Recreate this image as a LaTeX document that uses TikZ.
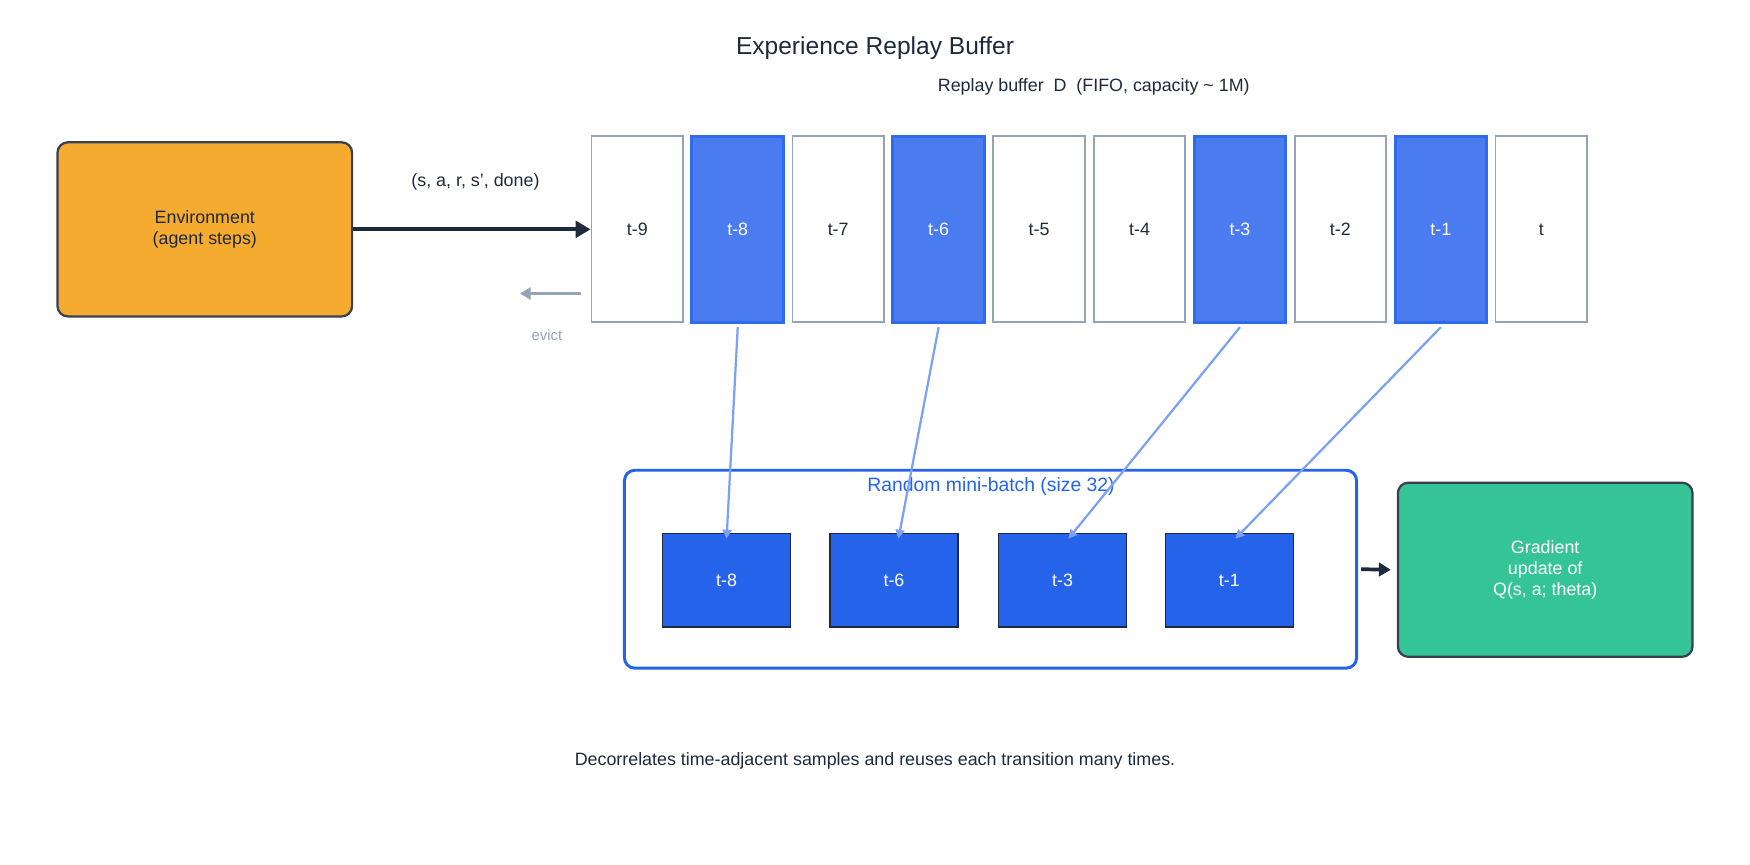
\documentclass[tikz,border=0pt]{standalone}
\usepackage{fontspec}
\setmainfont{Liberation Sans}
\usetikzlibrary{arrows.meta}
\definecolor{ink}{HTML}{1E293B}
\definecolor{slate}{HTML}{94A3B8}
\definecolor{hiblue}{HTML}{4A7BEF}
\definecolor{hiedge}{HTML}{2F6BEB}
\definecolor{deepblue}{HTML}{2563EB}
\definecolor{pickline}{HTML}{7BA0F5}
\definecolor{envfill}{HTML}{F5AA30}
\definecolor{gradfill}{HTML}{34C495}
\definecolor{boxedge}{HTML}{374151}

\begin{document}
\begin{tikzpicture}[x=0.75pt,y=-0.75pt]
\tikzset{every node/.style={font=\fontsize{12}{14}\selectfont,align=center}}
\tikzset{cell/.style={draw=slate,line width=1.2pt,minimum width=61.5pt,minimum height=125pt,text=ink}}
\tikzset{hcell/.style={cell,draw=hiedge,fill=hiblue,line width=2pt,text=white}}
\tikzset{bcell/.style={draw=ink,line width=1pt,fill=deepblue,text=white,minimum width=86pt,minimum height=63pt}}
\tikzset{bigbox/.style={draw=boxedge,line width=1.5pt,rounded corners=7pt,minimum width=198pt,minimum height=117pt}}
\useasboundingbox (0,0) rectangle (1568,775);

\node[font=\fontsize{16.5}{18}\selectfont,text=ink] (title) at (784,43) {Experience Replay Buffer};
\node[text=ink] (bufhead) at (980,78) {Replay buffer\ \ D\ \ (FIFO, capacity \textasciitilde{} 1M)};

\node[bigbox,fill=envfill,text=ink] (env) at (183.5,205.5) {Environment\\(agent steps)};
\node[bigbox,fill=gradfill,text=white] (grad) at (1384.5,510.5) {Gradient\\update of\\Q(s, a; theta)};

% buffer cells
\node[cell] (c9) at (571,205.5) {t-9};
\node[hcell] (c8) at (661,205.5) {t-8};
\node[cell] (c7) at (751,205.5) {t-7};
\node[hcell] (c6) at (841,205.5) {t-6};
\node[cell] (c5) at (931,205.5) {t-5};
\node[cell] (c4) at (1021,205.5) {t-4};
\node[hcell] (c3) at (1111,205.5) {t-3};
\node[cell] (c2) at (1201,205.5) {t-2};
\node[hcell] (c1) at (1291,205.5) {t-1};
\node[cell] (c0) at (1381,205.5) {t};

\node[text=ink] (tuple) at (426,163) {(s, a, r, s', done)};
\draw[ink,line width=2.5pt,-{Triangle[length=10pt,width=11pt]}] (env.east) -- (c9.west);

\coordinate (evs) at (521,263);
\coordinate (eve) at (466,263);
\draw[slate,line width=2pt,-{Triangle[length=7pt,width=8pt]}] (evs) -- (eve);
\node[text=slate,font=\fontsize{10}{12}\selectfont] (evict) at (490,300) {evict};

% mini-batch
\node[draw=deepblue,line width=2pt,rounded corners=7pt,minimum width=492pt,minimum height=133pt] (batch) at (887.5,510) {};
\node[text=deepblue,font=\fontsize{13}{15}\selectfont] (batchlbl) at (888,436) {Random mini-batch (size 32)};
\node[bcell] (b8) at (651,520) {t-8};
\node[bcell] (b6) at (801,520) {t-6};
\node[bcell] (b3) at (952,520) {t-3};
\node[bcell] (b1) at (1101.5,520) {t-1};

\draw[pickline,line width=1.5pt,-{Triangle[length=6pt,width=6pt]}] (c8.south) ++(0,3) -- ([yshift=-4pt]b8.north);
\draw[pickline,line width=1.5pt,-{Triangle[length=6pt,width=6pt]}] (c6.south) ++(0,3) -- ([xshift=3pt,yshift=-4pt]b6.north);
\draw[pickline,line width=1.5pt,-{Triangle[length=6pt,width=6pt]}] (c3.south) ++(0,3) -- ([xshift=4pt,yshift=-4pt]b3.north);
\draw[pickline,line width=1.5pt,-{Triangle[length=6pt,width=6pt]}] (c1.south) ++(0,3) -- ([xshift=4pt,yshift=-4pt]b1.north);

\draw[ink,line width=2.5pt,-{Triangle[length=8pt,width=9pt]}] ([xshift=2pt]batch.east) -- ([xshift=-4pt]grad.west);

\node[text=ink] (foot) at (784,682) {Decorrelates time-adjacent samples and reuses each transition many times.};
\end{tikzpicture}
\end{document}
